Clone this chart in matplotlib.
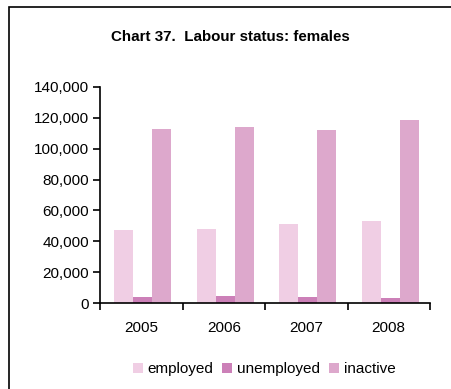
import numpy as np
import matplotlib
matplotlib.use('Agg')
import matplotlib.pyplot as plt
from matplotlib.patches import Rectangle

plt.rcParams['font.family'] = ['Liberation Sans', 'DejaVu Sans']

years = ['2005', '2006', '2007', '2008']
employed = [47400, 48000, 51200, 53200]
unemployed = [4100, 4700, 4100, 3400]
inactive = [112700, 114000, 112000, 118400]

series = [('employed', employed, '#F0CEE4'),
          ('unemployed', unemployed, '#CC80B8'),
          ('inactive', inactive, '#DDA8CC')]

fig = plt.figure(figsize=(4.51, 3.89), dpi=100)
# outer chart frame (open on right / bottom like the clipped original)
fig.patches.append(Rectangle((8.5/451, -0.1), 1.2, 1 - 7/389 + 0.1,
                             transform=fig.transFigure, fill=False,
                             edgecolor='black', linewidth=1.2))

ax = fig.add_axes([100/451, 1 - 303.3/389, 330/451, 216.6/389])
x = np.arange(len(years))
w = 0.232
for i, (name, vals, col) in enumerate(series):
    ax.bar(x + (i - 1) * w + 0.018, vals, w, color=col, label=name)

ax.set_xlim(-0.5, 3.5)
ax.set_ylim(0, 140000)
ax.set_yticks(range(0, 140001, 20000))
ax.set_yticklabels(['{:,}'.format(v) for v in range(0, 140001, 20000)], fontsize=11)
ax.set_xticks(np.arange(-0.5, 3.6, 1))
ax.set_xticklabels([])
ax.set_xticks(x, minor=True)
ax.set_xticklabels(years, minor=True, fontsize=11)
ax.tick_params(axis='x', which='minor', length=0, pad=13)
ax.tick_params(axis='x', which='major', length=5, width=1.2)
ax.tick_params(axis='y', length=5, width=1.2, pad=3)
for s in ['top', 'right']:
    ax.spines[s].set_visible(False)
for s in ['left', 'bottom']:
    ax.spines[s].set_linewidth(1.2)

fig.text(230/451, 1 - 37/389, 'Chart 37.  Labour status: females',
         ha='center', va='center', fontsize=10.9, fontweight='bold')

fig.legend(loc='center', bbox_to_anchor=(264/451, 1 - 369/389), ncol=3,
           frameon=False, fontsize=11, handlelength=0.65, handleheight=0.65,
           handletextpad=0.3, columnspacing=0.6)

fig.savefig('out.png', dpi=100)
